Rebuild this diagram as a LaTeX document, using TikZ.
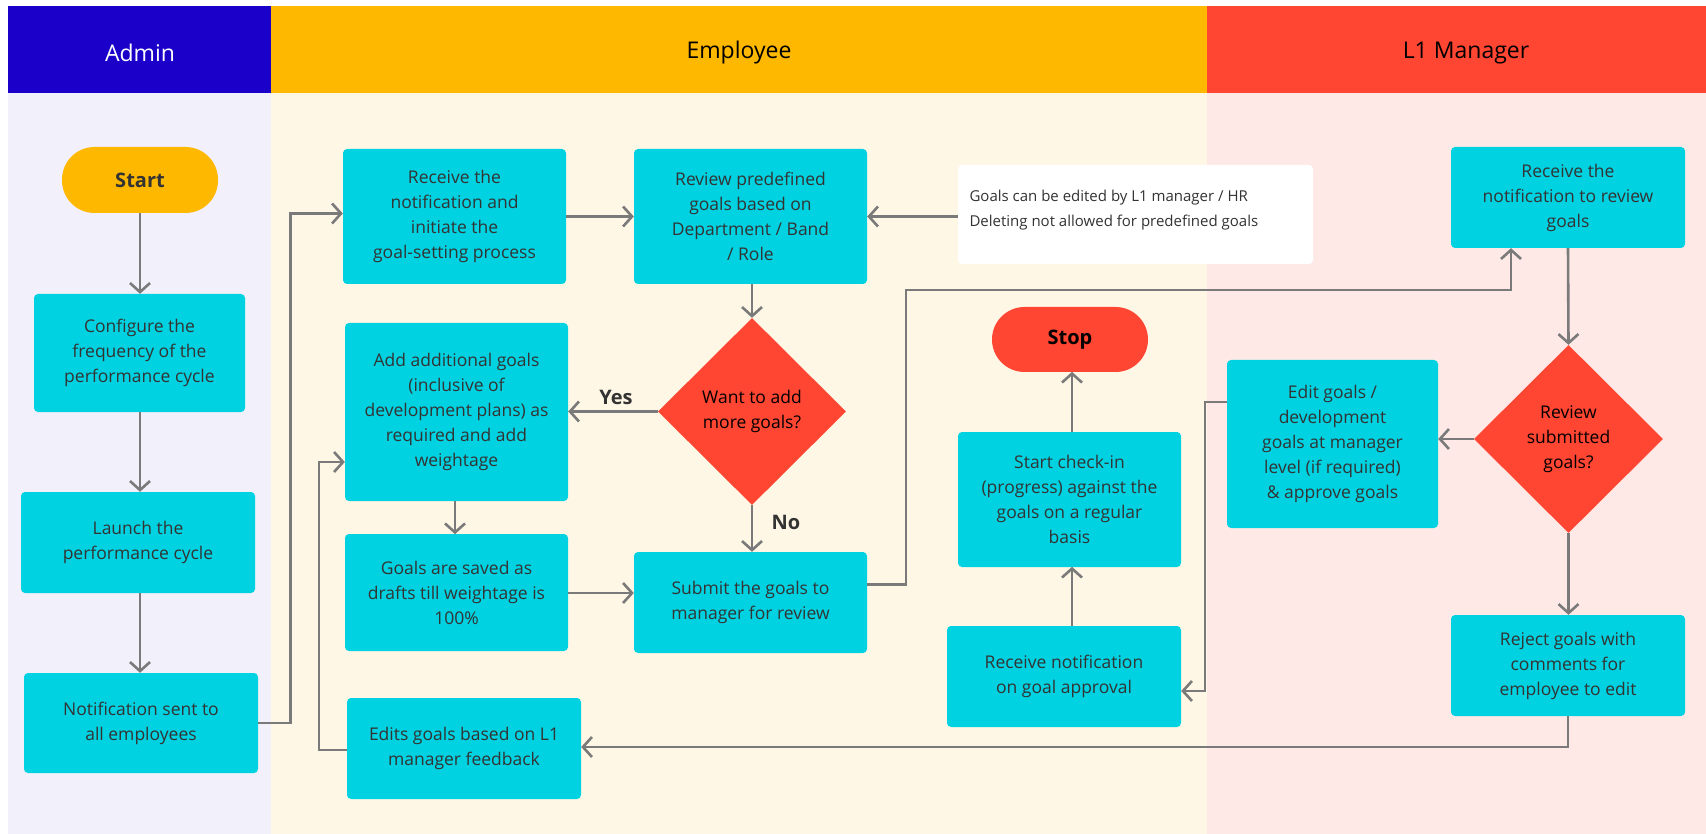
\documentclass[tikz,border=0pt]{standalone}
\usepackage{fontspec}
\setmainfont{Open Sans}
\usetikzlibrary{arrows.meta,shapes.geometric,calc}

\definecolor{adminhead}{HTML}{1B00C9}
\definecolor{emphead}{HTML}{FFB800}
\definecolor{mgrhead}{HTML}{FF4632}
\definecolor{adminlane}{HTML}{F2F0FB}
\definecolor{emplane}{HTML}{FFF7E6}
\definecolor{mgrlane}{HTML}{FFE9E7}
\definecolor{stepfill}{HTML}{00D2E1}
\definecolor{decfill}{HTML}{FF4632}
\definecolor{linegray}{HTML}{7A7A7A}
\definecolor{txt}{HTML}{333333}

\tikzset{
  stepbox/.style={draw=none, fill=stepfill, rounded corners=4pt, align=center,
    text=txt, inner sep=2pt, font=\fontsize{17.5}{25}\selectfont},
  terminal/.style={draw=none, rounded corners=32.5pt, align=center,
    font=\fontsize{20}{24}\selectfont\bfseries},
  decision/.style={diamond, draw=none, fill=decfill, align=center, inner sep=0pt,
    text=black, font=\fontsize{17.5}{25}\selectfont},
  conn/.style={draw=linegray, line width=2.6pt, line join=miter,
    -{Straight Barb[length=9pt,width=20pt,line width=2.6pt]}},
  lanehead/.style={font=\fontsize{23}{28}\selectfont},
  answer/.style={font=\fontsize{20}{24}\selectfont\bfseries, text=txt}
}

\begin{document}
\begin{tikzpicture}[x=1pt,y=-1pt]
\useasboundingbox (0,0) rectangle (1706,834);

% swim lanes
\fill[adminlane] (8,93) rectangle (271,834);
\fill[emplane] (271,93) rectangle (1207,834);
\fill[mgrlane] (1207,93) rectangle (1706,834);
\fill[adminhead] (8,6) rectangle (271,93);
\fill[emphead] (271,6) rectangle (1207,93);
\fill[mgrhead] (1207,6) rectangle (1706,93);
\node[lanehead, text=white] (hadmin) at (140,53) {Admin};
\node[lanehead, text=black] (hemp) at (739,53) {Employee};
\node[lanehead, text=black] (hmgr) at (1466,53) {L1 Manager};

% Admin lane
\node[terminal, fill=emphead, text=txt, minimum width=156pt, minimum height=66pt] (start) at (140,180) {Start};
\node[stepbox, minimum width=211pt, minimum height=118pt] (config) at (139.5,353) {Configure the\\frequency of the\\performance cycle};
\node[stepbox, minimum width=234pt, minimum height=101pt] (launch) at (138,542.5) {Launch the\\performance cycle};
\node[stepbox, minimum width=234pt, minimum height=100pt] (notif) at (141,723) {Notification sent to\\all employees};

% Employee lane
\node[stepbox, minimum width=223pt, minimum height=135pt] (recv) at (454.5,216.5) {Receive the\\notification and\\initiate the\\goal-setting process};
\node[stepbox, minimum width=223pt, minimum height=178pt] (addg) at (456.5,412) {Add additional goals\\(inclusive of\\development plans) as\\required and add\\weightage};
\node[stepbox, minimum width=223pt, minimum height=117pt] (saved) at (456.5,592.5) {Goals are saved as\\drafts till weightage is\\100\%};
\node[stepbox, minimum width=234pt, minimum height=101pt] (edits) at (464,748.5) {Edits goals based on L1\\manager feedback};
\node[stepbox, minimum width=233pt, minimum height=135pt] (review) at (750.5,216.5) {Review predefined\\goals based on\\Department / Band\\/ Role};
\node[decision, minimum width=188pt, minimum height=187pt] (dec1) at (752,411.5) {Want to add\\more goals?};
\node[stepbox, minimum width=233pt, minimum height=101pt] (submit) at (750.5,602.5) {Submit the goals to\\manager for review};
\node[draw=none, fill=white, rounded corners=4pt, minimum width=355pt, minimum height=99pt] (note) at (1135.5,214.5) {};
\node[anchor=west, align=left, text=txt, font=\fontsize{15}{25}\selectfont] (notetext) at (966,210) {Goals can be edited by L1 manager / HR\\Deleting not allowed for predefined goals};
\node[terminal, fill=decfill, text=black, minimum width=156pt, minimum height=65pt] (stop) at (1070,339.5) {Stop};
\node[stepbox, minimum width=223pt, minimum height=135pt] (checkin) at (1069.5,499.5) {Start check-in\\(progress) against the\\goals on a regular\\basis};
\node[stepbox, minimum width=234pt, minimum height=101pt] (approval) at (1064,676.5) {Receive notification\\on goal approval};

% L1 Manager lane
\node[stepbox, minimum width=234pt, minimum height=101pt] (rrev) at (1568,197.5) {Receive the\\notification to review\\goals};
\node[decision, minimum width=189pt, minimum height=188pt] (dec2) at (1568.5,439) {Review\\submitted\\goals?};
\node[stepbox, minimum width=211pt, minimum height=168pt] (editg) at (1332.5,444) {Edit goals /\\development\\goals at manager\\level (if required)\\\& approve goals};
\node[stepbox, minimum width=234pt, minimum height=101pt] (reject) at (1568,665.5) {Reject goals with\\comments for\\employee to edit};

% connectors
\draw[conn] (start) -- (start |- config.north);
\draw[conn] (config.south -| start) -- (start |- launch.north);
\draw[conn] (launch.south -| start) -- (start |- notif.north);
\draw[conn] (notif.east) -- ++(32,0) |- ([yshift=3pt]recv.west);
\draw[conn] (recv.east |- review.west) -- (review.west);
\draw[conn] (note.west |- review.east) -- (review.east);
\draw[conn] (review.south -| dec1) -- (dec1.north);
\draw[conn] (dec1.west) -- (dec1.west -| addg.east);
\node[answer] (yes) at (616,397) {Yes};
\draw[conn] (dec1.south) -- (dec1.south |- submit.north);
\node[answer] (no) at (786,522) {No};
\draw[conn] (saved.south |- addg.south) ++(-1.5,0) -- ++(0,33);
\draw[conn] (saved.east |- 0,593) -- (submit.west |- 0,593);
\coordinate (riser) at (906,290);
\draw[conn] ([yshift=18pt]submit.east) -| (riser) -| ([xshift=-57pt]rrev.south);
\draw[conn] (rrev.south) -- (dec2.north);
\draw[conn] (dec2.west) -- (dec2.west -| editg.east);
\draw[conn] (dec2.south) -- (dec2.south |- reject.north);
\draw[conn] ([yshift=42pt]editg.west) -- ++(-22,0) |- ([yshift=-14.5pt]approval.east);
\draw[conn] (checkin.south |- approval.north) ++(2.5,0) -- ++(0,-59);
\draw[conn] (stop.south |- checkin.north) ++(2,0) -- ++(0,-60);
\draw[conn] (reject.south) |- ([yshift=1.5pt]edits.east);
\draw[conn] ([yshift=-1.5pt]edits.west) -- ++(-28,0) |- ([yshift=-50pt]addg.west);
\end{tikzpicture}
\end{document}
